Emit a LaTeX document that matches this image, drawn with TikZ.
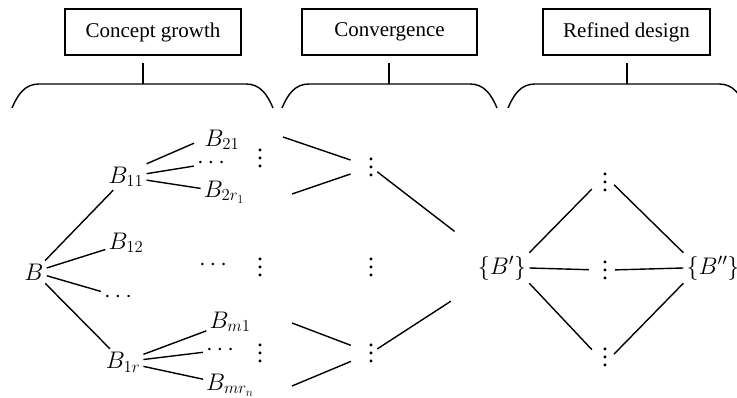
\RequirePackage{fix-cm}
\documentclass[tikz,border=0pt]{standalone}
\usepackage{fontspec}
\setmainfont{Liberation Serif}
\usepackage{amsmath}
\usetikzlibrary{positioning}

\newcommand\vdts{\vbox{\baselineskip=8pt\lineskiplimit=0pt\hbox{.}\hbox{.}\hbox{.}}}

\tikzset{
  hdr/.style={draw, line width=1.2pt, minimum width=#1, minimum height=46pt, inner sep=0pt, font=\fontsize{21}{24}\selectfont},
  lbl/.style={inner sep=3pt, font=\fontsize{24}{28}\selectfont},
  ln/.style={line width=1.4pt},
}

\begin{document}
\begin{tikzpicture}[x=1pt, y=-1pt]
  \clip (0,0) rectangle (737,398);

  % stage headers
  \node[hdr=176pt] (hd1) at (153,32) {Concept growth};
  \node[hdr=175pt] (hd2) at (389.5,32) {Convergence};
  \node[hdr=167pt] (hd3) at (626.5,32) {Refined design};

  % braces under the headers
  \foreach \l/\r in {12/273, 282/497, 508/746}
    \draw[ln] (\l,108) .. controls (\l+6,94) and (\l+13,84) .. (\l+27,84)
      -- (\r-27,84) .. controls (\r-13,84) and (\r-6,94) .. (\r,108);
  \coordinate (br1) at (143,84);
  \coordinate (br2) at (389,84);
  \coordinate (br3) at (627,84);
  \foreach \b/\h in {br1/hd1, br2/hd2, br3/hd3}
    \draw[ln, shorten >=7pt] (\b) -- (\b |- \h.south);

  % concept growth tree
  \node[lbl] (B) at (34,272) {$B$};
  \node[lbl] (B11) at (126,177) {$B_{11}$};
  \node[lbl] (B12) at (126,243) {$B_{12}$};
  \node[lbl] (dt1) at (120,297) {$\cdots$};
  \node[lbl] (B1r) at (123,362) {$B_{1r}$};
  \node[lbl] (B21) at (222,140) {$B_{21}$};
  \node[lbl] (dt2) at (213,163) {$\cdots$};
  \node[lbl] (B2r) at (224,192) {$B_{2r_1}$};
  \node[lbl] (dt3) at (215,265) {$\cdots$};
  \node[lbl] (Bm1) at (230,322) {$B_{m1}$};
  \node[lbl] (dt4) at (222,350) {$\cdots$};
  \node[lbl] (Bmr) at (230,385) {$B_{mr_n}$};
  \node[lbl] (vd1) at (260,158) {\vdts};
  \node[lbl] (vd2) at (260,267) {\vdts};
  \node[lbl] (vd3) at (260,353) {\vdts};

  \foreach \t in {B11,B12,dt1,B1r} \draw[ln] (B) -- (\t);
  \draw[ln, shorten >=8pt] (B11.north east) -- (B21.west);
  \foreach \t in {dt2,B2r} \draw[ln] (B11) -- (\t);
  \foreach \t in {Bm1,dt4,Bmr} \draw[ln] (B1r) -- (\t);

  % convergence
  \node[lbl] (cv1) at (371,167) {\vdts};
  \node[lbl] (cv2) at (371,267) {\vdts};
  \node[lbl] (cv3) at (371,353) {\vdts};
  \coordinate (s1) at (283,137);
  \coordinate (s2) at (292,194);
  \coordinate (s3) at (292,323);
  \coordinate (s4) at (292,386);
  \foreach \s in {s1,s2} \draw[ln, shorten >=15pt] (\s) -- (cv1);
  \foreach \s in {s3,s4} \draw[ln, shorten >=15pt] (\s) -- (cv3);

  % refined design
  \node[lbl] (Bp) at (502,268) {$\{B'\}$};
  \node[lbl] (rd1) at (605,182) {\vdts};
  \node[lbl] (rd2) at (605,270) {\vdts};
  \node[lbl] (rd3) at (605,357) {\vdts};
  \node[lbl] (Bpp) at (713,268) {$\{B''\}$};
  \draw[ln, shorten >=35pt] (cv1) -- (Bp);
  \draw[ln, shorten >=33pt] (cv3) -- (Bp);

  \draw[ln, shorten >=10pt] (Bp.north east) -- (rd1.west);
  \draw[ln, shorten >=10pt] (Bp.east) -- (rd2.west);
  \draw[ln, shorten >=10pt] (Bp.south east) -- (rd3.west);
  \draw[ln, shorten <=4pt] (rd1.east) -- (Bpp.north west);
  \draw[ln, shorten <=4pt] (rd2.east) -- (Bpp.west);
  \draw[ln, shorten <=4pt] (rd3.east) -- (Bpp.south west);
\end{tikzpicture}
\end{document}
